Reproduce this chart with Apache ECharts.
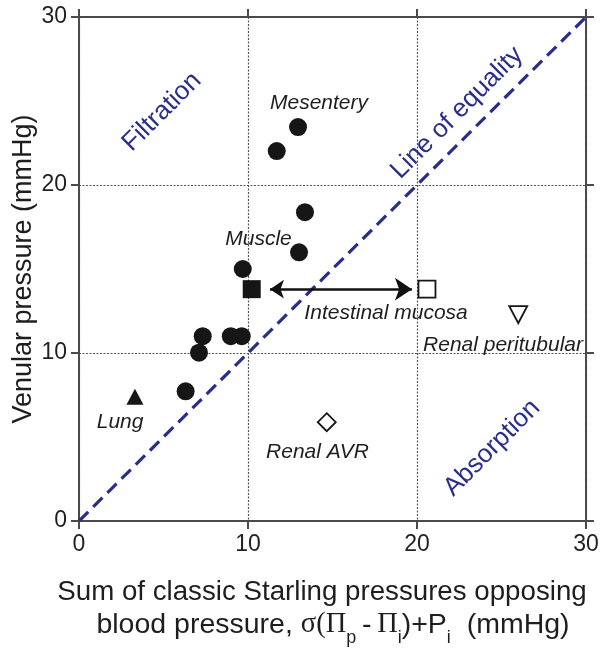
<!DOCTYPE html>
<html>
<head>
<meta charset="utf-8">
<script src="https://cdn.jsdelivr.net/npm/echarts@6/dist/echarts.min.js"></script>
<style>
  html, body { margin: 0; padding: 0; background: #ffffff; }
  #chart { width: 600px; height: 649px; }
</style>
</head>
<body>
<div id="chart"></div>
<script>
// Axis ticks (mmHg), both axes share the same scale
const tickValues = [0, 10, 20, 30];

// Vascular beds: [Starling sum opposing blood pressure, venular pressure] in mmHg
const circleBeds = [
  [12.96, 23.45], [11.70, 22.02], [13.37, 18.38], [13.02, 15.99], [9.69, 15.00],
  [7.32, 11.00], [8.98, 11.00], [9.63, 11.00], [7.10, 10.02], [6.31, 7.72]
];
const mucosaClassic = [[10.22, 13.80]];
const mucosaRevised = [[20.59, 13.80]];
const lungBed = [[3.31, 7.40]];
const renalAvrBed = [[14.66, 5.88]];
const renalPeritubularBed = [[25.99, 12.28]];

// Line of equality and the shift of intestinal mucosa
const equality = [[0, 0], [30, 30]];
const mucosaShift = [[11.3, 13.80], [19.7, 13.80]];

// Text notes anchored in data coordinates
const bedNotes = [
  { name: 'Mesentery', value: [14.2, 24.88] },
  { name: 'Muscle', value: [10.62, 16.79] },
  { name: 'Intestinal mucosa', value: [18.17, 12.38] },
  { name: 'Renal peritubular', value: [25.09, 10.48] },
  { name: 'Lung', value: [2.43, 5.89] },
  { name: 'Renal AVR', value: [14.11, 4.11] }
];
const regionNotes = [
  { name: 'Filtration', value: [4.91, 24.35] },
  { name: 'Line of equality', value: [22.37, 24.29] },
  { name: 'Absorption', value: [24.44, 4.35] }
];

const INK = '#161616';
const AXIS = '#4a4a4a';
const NAVY = '#2a2d8a';
const SANS = '"Liberation Sans", Arial, sans-serif';
const SERIF = '"Liberation Serif", "DejaVu Serif", serif';

const chart = echarts.init(document.getElementById('chart'), null, { renderer: 'canvas' });

function valueAxis(extra) {
  return Object.assign({
    type: 'value',
    min: tickValues[0],
    max: tickValues[tickValues.length - 1],
    interval: 10,
    axisLine: { show: true, onZero: false, lineStyle: { color: AXIS, width: 2 } },
    axisTick: { show: true, inside: false, length: 8, lineStyle: { color: AXIS, width: 2 } },
    axisLabel: { show: true, color: '#222', fontSize: 23, fontFamily: SANS },
    splitLine: { show: false }
  }, extra);
}

const dotted = { show: true, lineStyle: { color: '#555', width: 1.2, type: [2, 1.5] } };
const solidMark = (extra) => Object.assign({ opacity: 1 }, extra);

chart.setOption({
  animation: false,
  backgroundColor: '#ffffff',
  grid: { left: 79, right: 14, top: 17, bottom: 128, containLabel: false, outerBoundsMode: 'none' },
  xAxis: [
    valueAxis({ position: 'bottom', splitLine: dotted, axisLabel: { color: '#222', fontSize: 23, fontFamily: SANS, margin: 12 } }),
    valueAxis({ position: 'top', axisLabel: { show: false } })
  ],
  yAxis: [
    valueAxis({
      position: 'left', splitLine: dotted,
      axisLabel: { color: '#222', fontSize: 23, fontFamily: SANS, margin: 12 },
      name: 'Venular pressure (mmHg)', nameLocation: 'middle', nameGap: 42,
      nameMoveOverlap: false,
      nameTextStyle: { fontSize: 27, color: '#1e1e1e', fontFamily: SANS }
    }),
    valueAxis({ position: 'right', axisLabel: { show: false } })
  ],
  graphic: [
    {
      type: 'text', x: 322, y: 578,
      style: {
        text: 'Sum of classic Starling pressures opposing',
        fill: '#1e1e1e', font: '27.7px ' + SANS, textAlign: 'center'
      }
    },
    {
      type: 'text', x: 333, y: 609,
      style: {
        text: 'blood pressure, {g|\u03c3(\u03a0}{s|p}{n|\u2009-\u2009}{g|\u03a0}{s|i}{n|)+P}{s|i}{n|  (mmHg)}',
        fill: '#1e1e1e', font: '28.5px ' + SANS, textAlign: 'center',
        rich: {
          n: { fontSize: 28.5, fontFamily: SANS, fill: '#1e1e1e', lineHeight: 32, verticalAlign: 'middle' },
          g: { fontSize: 28.5, fontFamily: SERIF, fill: '#1e1e1e', lineHeight: 32, verticalAlign: 'middle' },
          s: { fontSize: 18, fontFamily: SANS, fill: '#1e1e1e', lineHeight: 18, verticalAlign: 'bottom', padding: [0, 0, -6, 0] }
        }
      }
    }
  ],
  series: [
    {
      type: 'line', data: equality, showSymbol: false, silent: true, z: 3,
      lineStyle: { color: NAVY, width: 3.2, type: [13, 7] }
    },
    {
      type: 'lines', coordinateSystem: 'cartesian2d', z: 4, silent: true,
      symbol: ['arrow', 'arrow'], symbolSize: [14, 17],
      lineStyle: { color: '#111', width: 2.6, opacity: 1 },
      data: [{ coords: mucosaShift }]
    },
    {
      type: 'scatter', data: circleBeds, symbol: 'circle', symbolSize: 18, z: 5,
      itemStyle: solidMark({ color: INK })
    },
    {
      type: 'scatter', data: mucosaClassic, symbol: 'rect', symbolSize: 18, z: 5,
      itemStyle: solidMark({ color: INK })
    },
    {
      type: 'scatter', data: mucosaRevised, symbol: 'rect', symbolSize: 17, z: 5,
      itemStyle: solidMark({ color: '#ffffff', borderColor: INK, borderWidth: 1.8 })
    },
    {
      type: 'scatter', data: lungBed, symbol: 'triangle', symbolSize: [17, 16], z: 5,
      itemStyle: solidMark({ color: INK })
    },
    {
      type: 'scatter', data: renalAvrBed, symbol: 'diamond', symbolSize: 18, z: 5,
      itemStyle: solidMark({ color: '#ffffff', borderColor: INK, borderWidth: 1.8 })
    },
    {
      type: 'scatter', data: renalPeritubularBed, symbol: 'triangle', symbolRotate: 180,
      symbolSize: [18, 17], z: 5,
      itemStyle: solidMark({ color: '#ffffff', borderColor: INK, borderWidth: 1.8 })
    },
    {
      type: 'scatter', data: bedNotes, symbolSize: 0, silent: true, z: 6,
      itemStyle: { opacity: 1 },
      label: {
        show: true, position: 'inside', formatter: '{b}', opacity: 1,
        color: '#1e1e1e', fontSize: 21, fontStyle: 'italic', fontFamily: SANS
      }
    },
    {
      type: 'scatter', data: regionNotes, symbolSize: 0, silent: true, z: 6,
      itemStyle: { opacity: 1 },
      label: {
        show: true, position: 'inside', formatter: '{b}', rotate: 45, opacity: 1,
        color: NAVY, fontSize: 26, fontFamily: SANS
      }
    }
  ]
});
</script>
</body>
</html>
